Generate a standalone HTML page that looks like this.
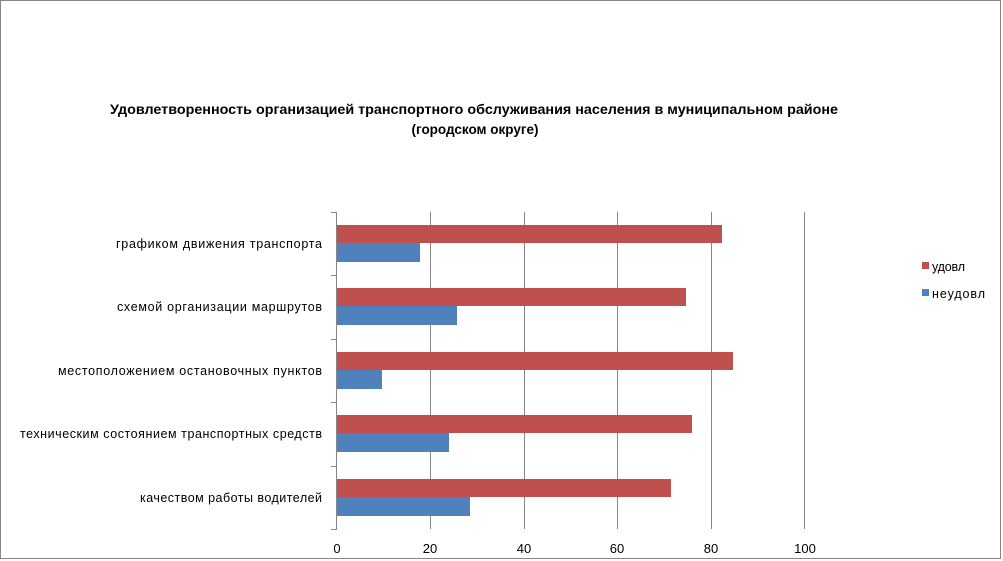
<!DOCTYPE html>
<html><head><meta charset="utf-8"><style>
body{margin:0;background:#fff;}
svg{display:block;font-family:"Liberation Sans","DejaVu Sans",sans-serif;}
</style></head><body>
<svg width="1003" height="561" xmlns="http://www.w3.org/2000/svg">
<rect x="0.5" y="0.5" width="1000" height="558" fill="#fff" stroke="#868686"/>
<text x="110" y="114" font-size="13.5" font-weight="bold" textLength="728" lengthAdjust="spacingAndGlyphs">Удовлетворенность организацией транспортного обслуживания населения в муниципальном районе</text>
<text x="475" y="134" font-size="13.5" font-weight="bold" text-anchor="middle">(городском округе)</text>
<g stroke="#868686" stroke-width="1">
<line x1="430.5" y1="212" x2="430.5" y2="529"/>
<line x1="524.5" y1="212" x2="524.5" y2="529"/>
<line x1="617.5" y1="212" x2="617.5" y2="529"/>
<line x1="711.5" y1="212" x2="711.5" y2="529"/>
<line x1="804.5" y1="212" x2="804.5" y2="529"/>
<line x1="336.5" y1="212" x2="336.5" y2="529"/>
<line x1="331" y1="212.5" x2="337" y2="212.5"/>
<line x1="331" y1="275.5" x2="337" y2="275.5"/>
<line x1="331" y1="339.5" x2="337" y2="339.5"/>
<line x1="331" y1="402.5" x2="337" y2="402.5"/>
<line x1="331" y1="466.5" x2="337" y2="466.5"/>
<line x1="331" y1="529.5" x2="337" y2="529.5"/>
</g>
<g>
<rect x="337" y="225" width="385" height="18" fill="#c0504d"/>
<rect x="337" y="243" width="83" height="19" fill="#4f81bd"/>
<rect x="337" y="288" width="349" height="18" fill="#c0504d"/>
<rect x="337" y="306" width="120" height="19" fill="#4f81bd"/>
<rect x="337" y="352" width="396" height="18" fill="#c0504d"/>
<rect x="337" y="370" width="45" height="19" fill="#4f81bd"/>
<rect x="337" y="415" width="355" height="18" fill="#c0504d"/>
<rect x="337" y="433" width="112" height="19" fill="#4f81bd"/>
<rect x="337" y="479" width="334" height="18" fill="#c0504d"/>
<rect x="337" y="497" width="133" height="19" fill="#4f81bd"/>
</g>
<g font-size="12.5" fill="#000" lengthAdjust="spacingAndGlyphs">
<text x="116" y="248" textLength="206">графиком движения  транспорта</text>
<text x="117" y="311" textLength="205">схемой организации маршрутов</text>
<text x="58" y="375" textLength="264">местоположением  остановочных пунктов</text>
<text x="20" y="438" textLength="302">техническим  состоянием транспортных средств</text>
<text x="140" y="502" textLength="182">качеством работы водителей</text>
</g>
<g font-size="13" text-anchor="middle">
<text x="337" y="553">0</text>
<text x="430" y="553">20</text>
<text x="524" y="553">40</text>
<text x="617" y="553">60</text>
<text x="711" y="553">80</text>
<text x="805" y="553">100</text>
</g>
<rect x="922" y="262" width="7" height="7" fill="#c0504d"/>
<text x="932" y="271" font-size="12.5" textLength="33">удовл</text>
<rect x="922" y="289" width="7" height="7" fill="#4f81bd"/>
<text x="932" y="298" font-size="12.5" textLength="53">неудовл</text>
</svg>
</body></html>
